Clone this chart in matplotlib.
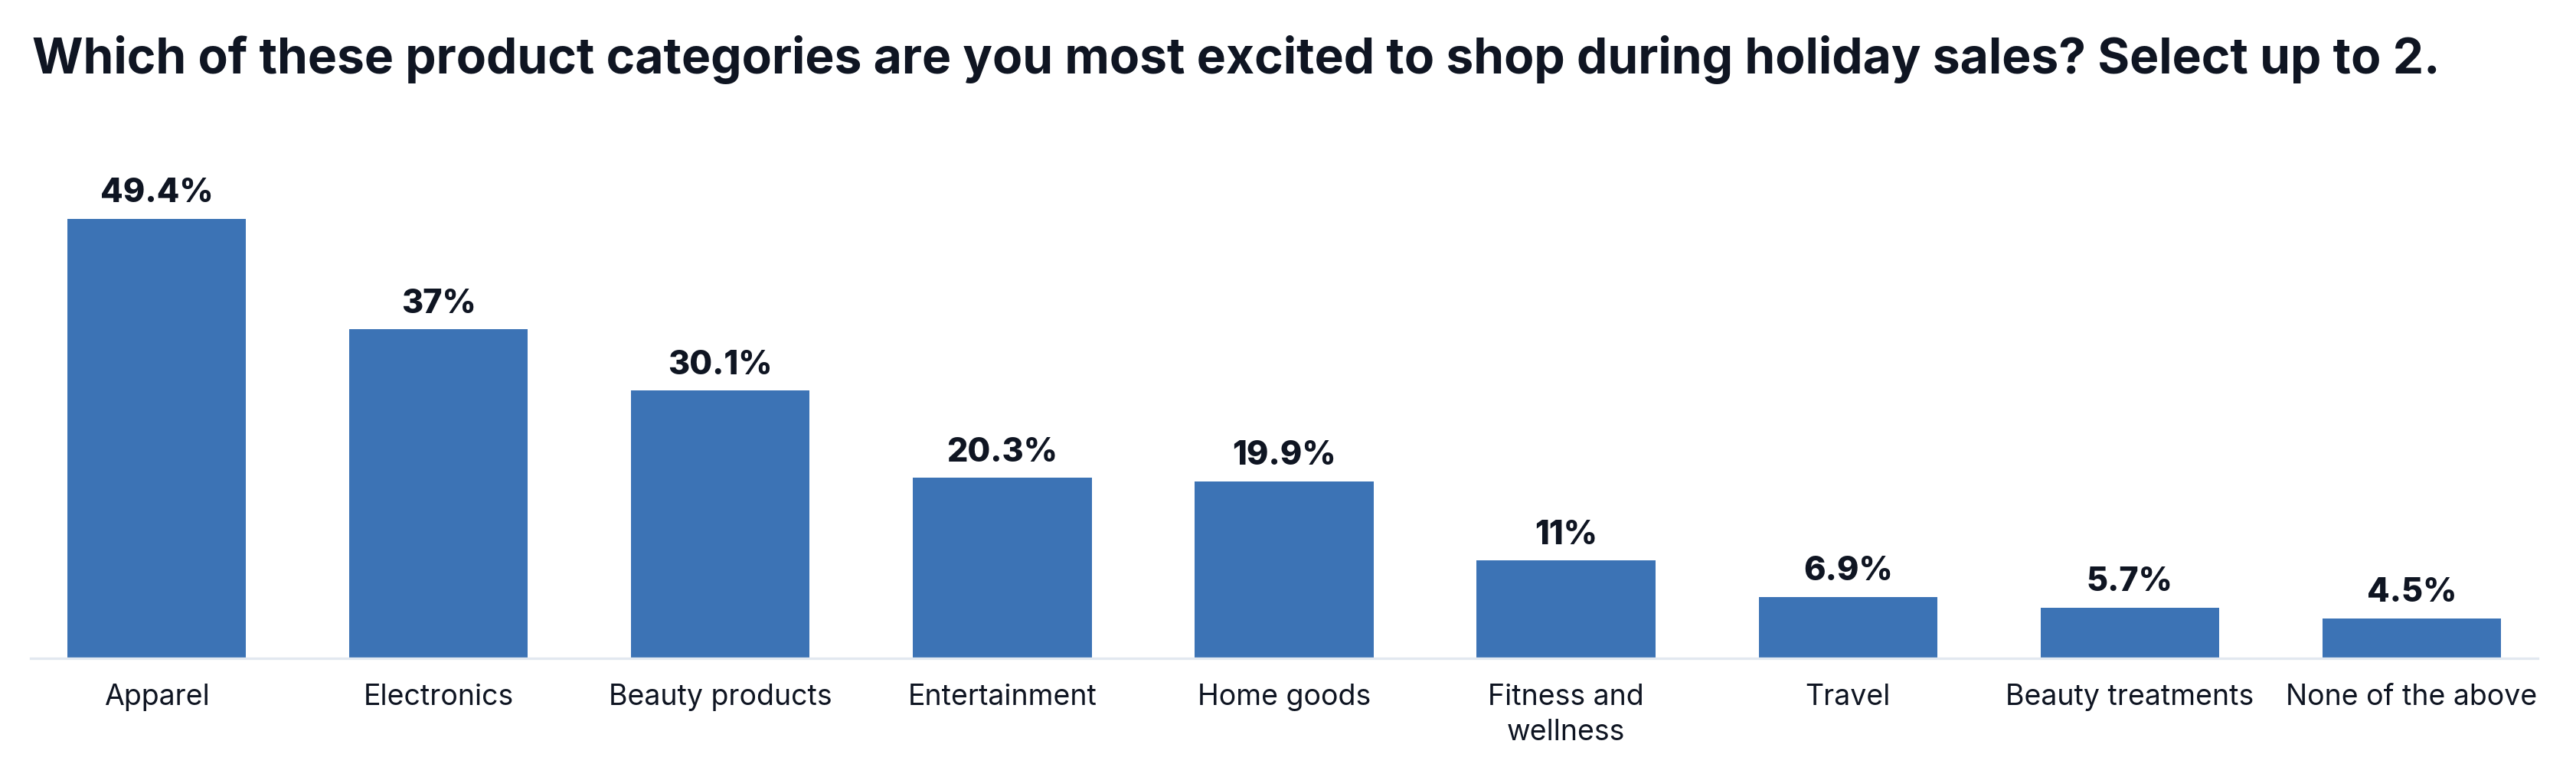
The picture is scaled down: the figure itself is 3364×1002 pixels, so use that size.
import matplotlib
matplotlib.use("Agg")
import matplotlib.pyplot as plt

categories = ["Apparel", "Electronics", "Beauty products", "Entertainment", "Home goods",
              "Fitness and\nwellness", "Travel", "Beauty treatments", "None of the above"]
values = [49.4, 37, 30.1, 20.3, 19.9, 11, 6.9, 5.7, 4.5]
value_labels = ["49.4%", "37%", "30.1%", "20.3%", "19.9%", "11%", "6.9%", "5.7%", "4.5%"]
title = "Which of these product categories are you most excited to shop during holiday sales? Select up to 2."

W, H, DPI = 3364, 1002, 200
fig = plt.figure(figsize=(W / DPI, H / DPI), dpi=DPI)
text_color = "#0f1522"
bar_color = "#3c73b5"

ax_left, ax_right = 40 / W, 3314 / W
ax_bottom_px, px_per_unit = 860, 11.62
ymax = 55
ax = fig.add_axes([ax_left, 1 - ax_bottom_px / H, ax_right - ax_left, ymax * px_per_unit / H])

x = list(range(len(categories)))
bars = ax.bar(x, values, width=0.634, color=bar_color, zorder=2)
ax.set_xlim(-0.447, len(categories) - 1 + 0.447)
ax.set_ylim(0, ymax)

for xi, v, lab in zip(x, values, value_labels):
    ax.annotate(lab, (xi, v), xytext=(0, 4.5), textcoords="offset points",
                ha="center", va="bottom", fontsize=15.5, fontweight=800,
                family=["Inter", "DejaVu Sans"], color=text_color)

ax.set_xticks(x)
ax.set_xticklabels(categories, fontsize=13.5, family=["Inter", "DejaVu Sans"], color=text_color,
                   linespacing=1.33)
ax.tick_params(axis="x", length=0, pad=12)
ax.set_yticks([])
for s in ["top", "left", "right"]:
    ax.spines[s].set_visible(False)
ax.spines["bottom"].set_color("#e2e8f0")
ax.spines["bottom"].set_linewidth(1.2)

fig.text(42 / W, 1 - 96 / H, title, ha="left", va="baseline", fontsize=23.1,
         fontweight="bold", family=["Inter", "DejaVu Sans"], color=text_color)

fig.savefig("out.png", dpi=DPI, facecolor="white")
